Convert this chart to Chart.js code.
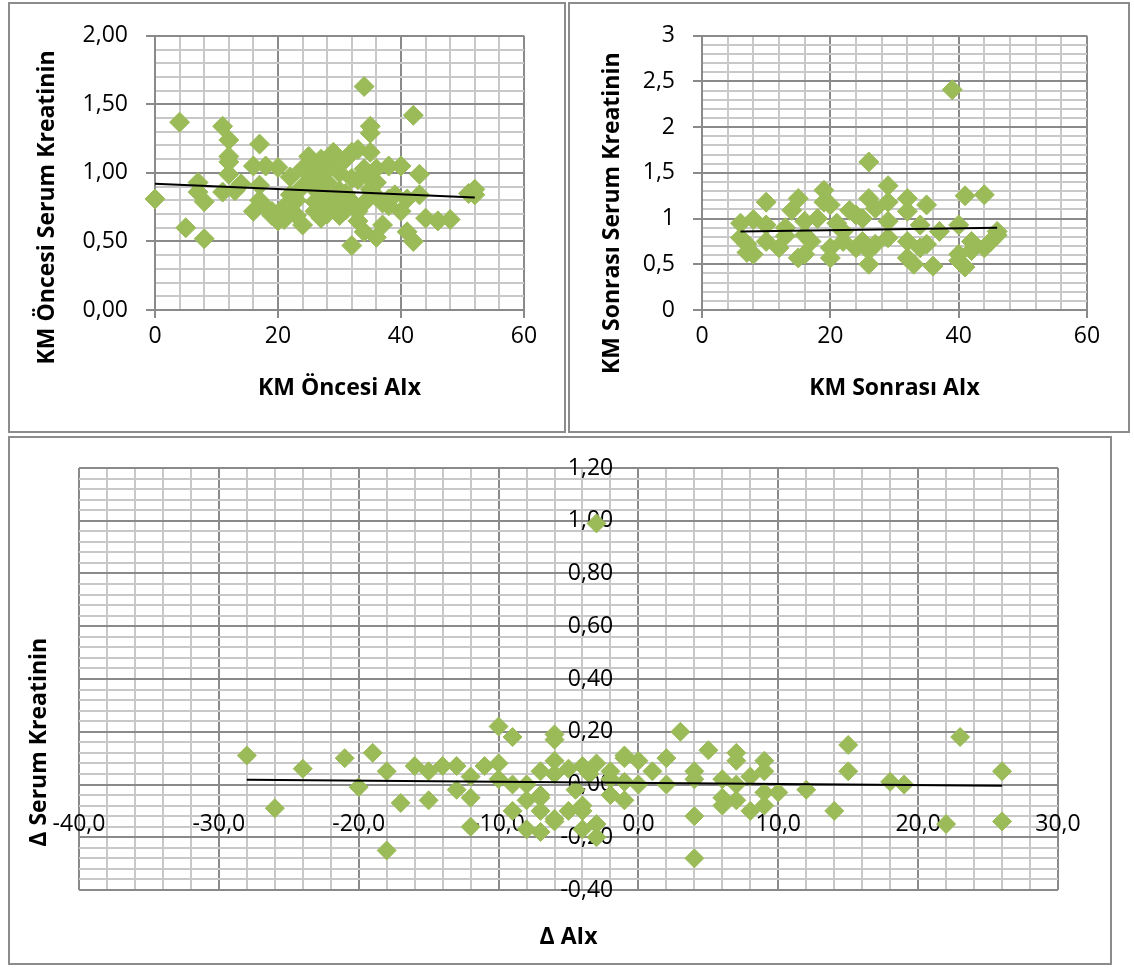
<!DOCTYPE html>
<html lang="tr">
<head>
<meta charset="utf-8">
<title>Serum Kreatinin - AIx</title>
<script src="https://cdn.jsdelivr.net/npm/chart.js@4.4.1/dist/chart.umd.min.js"></script>
<style>
  html, body { margin: 0; padding: 0; background: #fff; }
  body { position: relative; width: 1134px; height: 968px; overflow: hidden; }
  .panel { position: absolute; box-sizing: border-box; border: 2px solid #8c8c8c; background: #fff; }
  .panel canvas { position: absolute; left: 0; top: 0; }
  #p1 { left: 8px; top: 2px; width: 558px; height: 431px; }
  #p2 { left: 568px; top: 2px; width: 562px; height: 431px; }
  #p3 { left: 8px; top: 436px; width: 1104px; height: 529px; }
</style>
</head>
<body>
<div class="panel" id="p1"><canvas id="chartBefore" width="554" height="427"></canvas></div>
<div class="panel" id="p2"><canvas id="chartAfter" width="558" height="427"></canvas></div>
<div class="panel" id="p3"><canvas id="chartDelta" width="1100" height="525"></canvas></div>
<script>
// KM öncesi: AIx vs serum kreatinin
const aixBefore = [0,4,5,8,7,7,8,11,12,12,12,12,11,13,14,17,16,17,17,16,18,18,20,19,20,21,22,22,22,23,24,24,25,26,26,26,26,27,27,28,28,28,29,29,30,30,31,32,32,32,32,33,33,34,34,34,35,35,35,35,36,36,36,37,38,38,39,40,40,41,41,42,42,43,43,44,46,48,51,52,52,
  26,27,28,29,30,31,33,33,34,35,36,37,38,23,24,21,19,25,26,28,30,31];
const creatBefore = [0.81,1.37,0.60,0.52,0.93,0.86,0.79,1.34,1.24,1.12,1.08,0.99,0.86,0.87,0.92,1.21,1.05,0.91,0.80,0.72,0.75,1.05,1.04,0.69,0.65,0.66,0.97,0.84,0.76,0.69,0.62,1.03,1.12,1.05,0.98,0.88,0.79,1.10,0.67,0.74,0.93,0.81,1.15,1.08,0.69,0.74,1.10,0.96,0.47,1.15,0.79,0.65,1.17,1.63,1.03,0.57,1.15,0.88,1.34,1.29,1.03,0.53,0.93,0.62,0.81,1.05,0.84,1.05,0.72,0.81,0.57,1.42,0.50,0.99,0.84,0.67,0.65,0.66,0.85,0.88,0.84,
  0.72,0.85,0.70,0.77,0.87,0.73,0.95,0.72,0.78,0.96,0.83,0.78,0.76,0.80,0.90,0.75,0.72,0.93,1.00,1.02,1.00,0.85];
const trendBeforeX = [0, 52];
const trendBeforeY = [0.92, 0.82];
const beforeXTicks = [0, 20, 40, 60];
const beforeYTicks = [0, 0.5, 1, 1.5, 2];

// KM sonrası
const aixAfter = [39,26,29,19,44,41,10,15,14,19,20,26,27,29,32,32,35,23,24,25,6,8,10,13,16,18,21,22,29,34,40,37,46,6,7,7,8,10,12,13,15,16,16,17,20,20,22,24,25,26,26,27,29,32,33,32,34,35,36,40,41,40,42,42,44,45,46];
const creatAfter = [2.41,1.62,1.36,1.31,1.26,1.25,1.18,1.22,1.09,1.18,1.15,1.22,1.11,1.18,1.22,1.08,1.15,1.09,1.04,1.00,0.95,0.99,0.93,0.90,0.97,1.00,0.95,0.86,0.97,0.93,0.93,0.86,0.86,0.79,0.72,0.63,0.61,0.75,0.68,0.81,0.57,0.61,0.82,0.75,0.68,0.57,0.75,0.68,0.75,0.50,0.65,0.72,0.79,0.57,0.50,0.75,0.68,0.72,0.48,0.54,0.47,0.61,0.75,0.65,0.68,0.75,0.82];
const trendAfterX = [6, 46];
const trendAfterY = [0.86, 0.90];
const afterXTicks = [0, 20, 40, 60];
const afterYTicks = [0, 0.5, 1, 1.5, 2, 2.5, 3];

// Δ values
const deltaAix = [-28,-26,-24,-21,-20,-19,-18,-18,-17,-16,-15,-15,-14,-13,-13,-12,-12,-12,-11,-10,-10,-10,-9,-9,-9,-8,-8,-7,-7,-7,-7,-6,-6,-6,-6,-7,-5,-4.5,-4,-4,-3,-3,-2,-1,-1,-3.5,-6,-5,-6,-8,
  -4,-4,-3,-3,-2,-2,-1,-1,0,0,1,2,2,3,4,4,4,4,5,6,6,6,7,7,7,7,8,8,9,9,9,9,10,12,14,15,15,18,19,22,23,26,26];
const deltaCreat = [0.11,-0.09,0.06,0.10,-0.01,0.12,0.05,-0.25,-0.07,0.07,0.05,-0.06,0.07,0.07,-0.02,0.03,-0.05,-0.16,0.07,0.22,0.08,0.02,0.18,0.00,-0.10,-0.06,0.00,0.05,-0.04,-0.10,-0.18,0.19,0.17,0.09,-0.14,-0.05,0.06,-0.02,-0.08,-0.17,-0.15,-0.20,0.02,-0.06,0.10,0.04,0.04,-0.10,-0.13,-0.17,
  0.07,-0.10,0.99,0.08,0.05,-0.04,0.11,0.01,0.09,0.00,0.05,0.10,0.00,0.20,0.05,0.02,-0.12,-0.28,0.13,0.02,-0.05,-0.08,0.12,0.09,0.00,-0.06,0.03,-0.10,0.09,0.05,-0.03,-0.08,-0.03,-0.02,-0.10,0.15,0.05,0.01,0.00,-0.15,0.18,0.05,-0.14];
const trendDeltaX = [-28, 26];
const trendDeltaY = [0.018, -0.005];
const deltaXTicks = [-40, -30, -20, -10, 0, 10, 20, 30];
const deltaYTicks = [-0.4, -0.2, 0, 0.2, 0.4, 0.6, 0.8, 1.0, 1.2];

const GREEN = "#9bbb59";
const MAJOR_GRID = "#8a8a8a";
const MINOR_GRID = "#c8c8c8";
const FONT = "'Open Sans', sans-serif";
const tickFont = { family: FONT, size: 23 };
const titleFont = { family: FONT, size: 23, weight: "bold" };

function onTick(v, list){
  return list.some(t => Math.abs(t - v) < 1e-7);
}
function comma(v, dec){
  let s = dec == null ? String(+v.toFixed(3)) : v.toFixed(dec);
  if (s === "-0" || /^-0[.,]0+$/.test(s)) s = s.slice(1);
  return s.replace(".", ",");
}
function points(xs, ys){
  return xs.map((x, i) => ({ x: x, y: ys[i] }));
}
function grid(majors, tickLen){
  return {
    color: c => onTick(c.tick.value, majors) ? MAJOR_GRID : MINOR_GRID,
    tickColor: c => onTick(c.tick.value, majors) ? MAJOR_GRID : "rgba(0,0,0,0)",
    lineWidth: 2,
    tickLength: tickLen,
    drawTicks: tickLen > 0
  };
}
function datasets(xs, ys, tx, ty, r, ids){
  return [
    Object.assign({
      label: "Trend",
      data: points(tx, ty),
      showLine: true,
      borderColor: "#000",
      borderWidth: 2,
      pointRadius: 0,
      clip: false
    }, ids || {}),
    Object.assign({
      label: "Hasta",
      data: points(xs, ys),
      pointStyle: "rectRot",
      pointRadius: r,
      backgroundColor: GREEN,
      borderColor: GREEN,
      borderWidth: 1,
      clip: false
    }, ids || {})
  ];
}

const common = {
  responsive: false,
  animation: false,
  events: [],
  plugins: { legend: { display: false }, tooltip: { enabled: false } }
};

function topChart(id, xs, ys, tx, ty, xTicks, yTicks, yDec, xTitle, yTitle, yWidth, yTitlePad, rightPad){
  return new Chart(document.getElementById(id), {
    type: "scatter",
    data: { datasets: datasets(xs, ys, tx, ty, 10) },
    options: Object.assign({}, common, {
      layout: { padding: { left: 0, top: 28, right: rightPad, bottom: 0 } },
      scales: {
        x: {
          type: "linear",
          min: xTicks[0], max: xTicks[xTicks.length - 1],
          ticks: { stepSize: 4, autoSkip: false, maxRotation: 0, font: tickFont, color: "#000", padding: 5,
                   callback: v => onTick(v, xTicks) ? String(v) : "" },
          grid: grid(xTicks, 8),
          border: { display: true, color: MAJOR_GRID, width: 2 },
          title: { display: true, text: xTitle, font: titleFont, color: "#000", padding: { top: 0, bottom: 29 } },
          afterFit: s => { s.height = 121; }
        },
        y: {
          type: "linear",
          min: yTicks[0], max: yTicks[yTicks.length - 1],
          ticks: { stepSize: 0.1, autoSkip: false, font: tickFont, color: "#000", padding: 18,
                   callback: v => onTick(v, yTicks) ? comma(v, yDec) : "" },
          grid: grid(yTicks, 9),
          border: { display: true, color: MAJOR_GRID, width: 2 },
          title: { display: true, text: yTitle, font: titleFont, color: "#000", padding: { top: yTitlePad, bottom: 0 } },
          afterFit: s => { s.width = yWidth; }
        }
      }
    })
  });
}

document.addEventListener("DOMContentLoaded", function(){
  // trailing em spaces push the rotated titles down, as in the original layout
  topChart("chartBefore", aixBefore, creatBefore, trendBeforeX, trendBeforeY, beforeXTicks, beforeYTicks, 2,
           "KM Öncesi AIx", "KM Öncesi Serum Kreatinin\u2003\u2003\u2003", 145, 24, 40);
  topChart("chartAfter", aixAfter, creatAfter, trendAfterX, trendAfterY, afterXTicks, afterYTicks, null,
           "KM Sonrası AIx", "KM Sonrası Serum Kreatinin\u2003\u2003\u2003\u2002", 132, 29, 41);

  // Δ chart: axes cross at zero, titles sit on separate outer scales
  const ids = { xAxisID: "x", yAxisID: "y" };
  new Chart(document.getElementById("chartDelta"), {
    type: "scatter",
    data: { datasets: datasets(deltaAix, deltaCreat, trendDeltaX, trendDeltaY, 9.5, ids) },
    options: Object.assign({}, common, {
      layout: { padding: { left: 0, top: 30, right: 52, bottom: 0 } },
      scales: {
        x: {
          type: "linear",
          position: { y: -0.1 },
          min: deltaXTicks[0], max: deltaXTicks[deltaXTicks.length - 1],
          ticks: { stepSize: 2, autoSkip: false, maxRotation: 0, font: tickFont, color: "#000", padding: 0,
                   callback: v => onTick(v, deltaXTicks) ? comma(v, 1) : "" },
          grid: grid(deltaXTicks, 0),
          border: { display: false }
        },
        y: {
          type: "linear",
          position: { x: -1.8 },
          min: deltaYTicks[0], max: deltaYTicks[deltaYTicks.length - 1],
          ticks: { stepSize: 0.04, autoSkip: false, font: tickFont, color: "#000", padding: 0,
                   callback: v => onTick(v, deltaYTicks) ? comma(v, 2) : "" },
          grid: grid(deltaYTicks, 0),
          border: { display: false }
        },
        xTitle: {
          type: "linear", position: "bottom",
          min: deltaXTicks[0], max: deltaXTicks[deltaXTicks.length - 1],
          ticks: { display: false }, grid: { display: false }, border: { display: false },
          title: { display: true, text: "Δ AIx", font: titleFont, color: "#000", padding: { top: 0, bottom: 12 } },
          afterFit: s => { s.height = 73; }
        },
        yTitle: {
          type: "linear", position: "left",
          min: deltaYTicks[0], max: deltaYTicks[deltaYTicks.length - 1],
          ticks: { display: false }, grid: { display: false }, border: { display: false },
          title: { display: true, text: "Δ Serum Kreatinin\u2003\u2003\u2003\u2003\u2003\u2002", font: titleFont, color: "#000", padding: { top: 16, bottom: 0 } },
          afterFit: s => { s.width = 69; }
        }
      }
    })
  });
});
</script>
</body>
</html>
